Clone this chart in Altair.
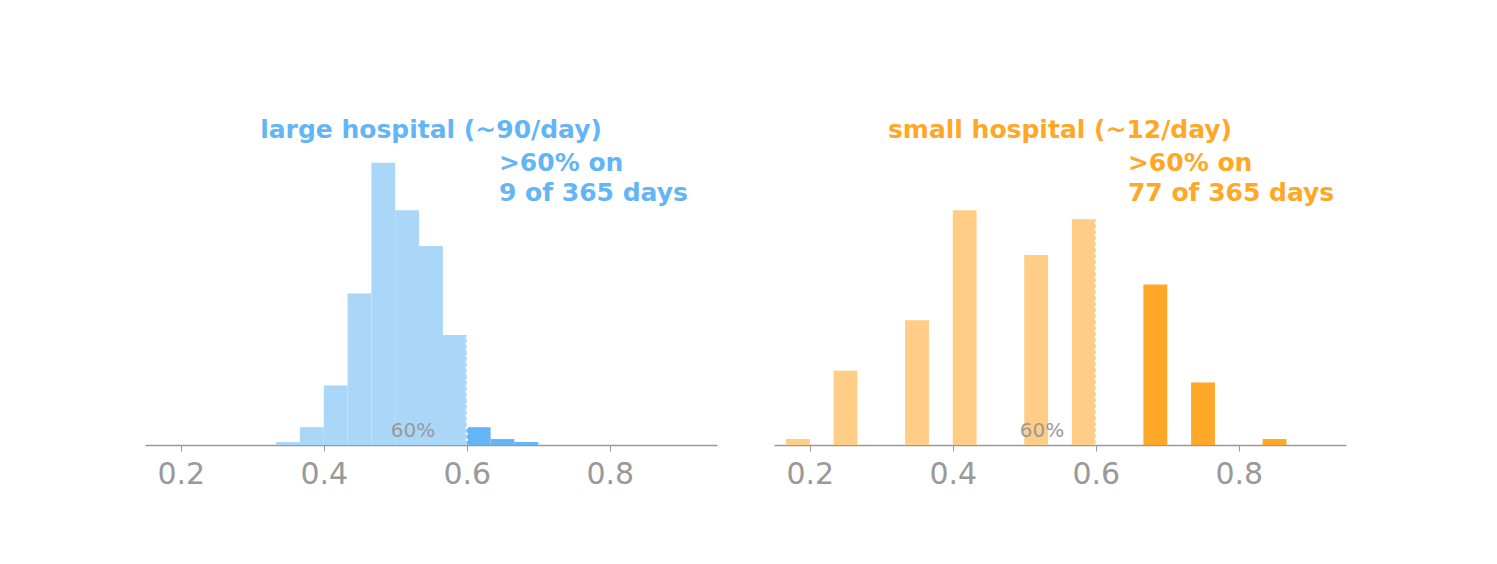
import altair as alt
import pandas as pd

# bin starts (bins of width 1/30) and day counts
large_bins = [10, 11, 12, 13, 14, 15, 16, 17, 18, 19, 20]
large_days = [1, 6, 20, 51, 95, 79, 67, 37, 6, 2, 1]
small_bins = [5, 7, 10, 12, 15, 17, 20, 22, 25]
small_days = [2, 25, 42, 79, 64, 76, 54, 21, 2]

panels = [
    ("large hospital (~90/day)", ">60% on\n9 of 365 days", large_bins, large_days,
     "#aad6f7", "#64b5f6"),
    ("small hospital (~12/day)", ">60% on\n77 of 365 days", small_bins, small_days,
     "#ffcd85", "#ffa726"),
]

gray = "#999999"
x_scale = alt.Scale(domain=[0.15, 0.95], nice=False, zero=False)
y_scale = alt.Scale(domain=[0, 101], nice=False)


def panel(title, note, bins, days, light, dark):
    df = pd.DataFrame({
        "lo": [b / 30 for b in bins],
        "hi": [(b + 1) / 30 for b in bins],
        "days": days,
    })
    df["fill"] = [dark if lo >= 0.599 else light for lo in df["lo"]]

    bars = alt.Chart(df).mark_rect(strokeWidth=0).encode(
        x=alt.X("lo:Q", scale=x_scale, title=None,
                axis=alt.Axis(values=[0.2, 0.4, 0.6, 0.8], format=".1f", grid=False,
                              labelFontSize=30, labelColor=gray, domainColor=gray,
                              tickColor=gray, tickSize=6, labelPadding=8,
                              domainWidth=1.5, labelFont="DejaVu Sans")),
        x2="hi:Q",
        y=alt.Y("days:Q", scale=y_scale, axis=None),
        y2=alt.datum(0),
        color=alt.Color("fill:N", scale=None),
    )

    cut = pd.DataFrame({"x": [0.6], "top": [max(days)], "lx": [0.593], "ly": [1.5],
                        "nx": [0.645], "ny": [95], "note": [note], "lab": ["60%"]})
    rule = alt.Chart(cut).mark_rule(color="white", strokeWidth=2.5, strokeDash=[2, 4]).encode(
        x=alt.X("x:Q", scale=x_scale), y=alt.Y("top:Q", scale=y_scale), y2=alt.datum(0))
    lab = alt.Chart(cut).mark_text(align="left", baseline="bottom", fontSize=20,
                                   color=gray, font="DejaVu Sans", dx=-76).encode(
        x=alt.X("x:Q", scale=x_scale), y=alt.Y("ly:Q", scale=y_scale), text="lab:N")
    txt = alt.Chart(cut).mark_text(align="left", baseline="top", fontSize=25,
                                   fontWeight="bold", color=dark, lineHeight=30,
                                   lineBreak="\n", font="DejaVu Sans", dy=-12).encode(
        x=alt.X("nx:Q", scale=x_scale), y=alt.Y("ny:Q", scale=y_scale),
        text=alt.Text("note:N"))

    return alt.layer(bars, rule, lab, txt).properties(
        width=572, height=300,
        title=alt.TitleParams(title, color=dark, fontSize=25, fontWeight="bold",
                              font="DejaVu Sans", offset=2),
    )


chart = alt.hconcat(*[panel(*p) for p in panels], spacing=57).properties(
    padding={"left": 137, "top": 110, "right": 10, "bottom": 10}
).configure_view(stroke=None)

chart.save("out.html", embed_options={"renderer": "svg", "actions": False})
